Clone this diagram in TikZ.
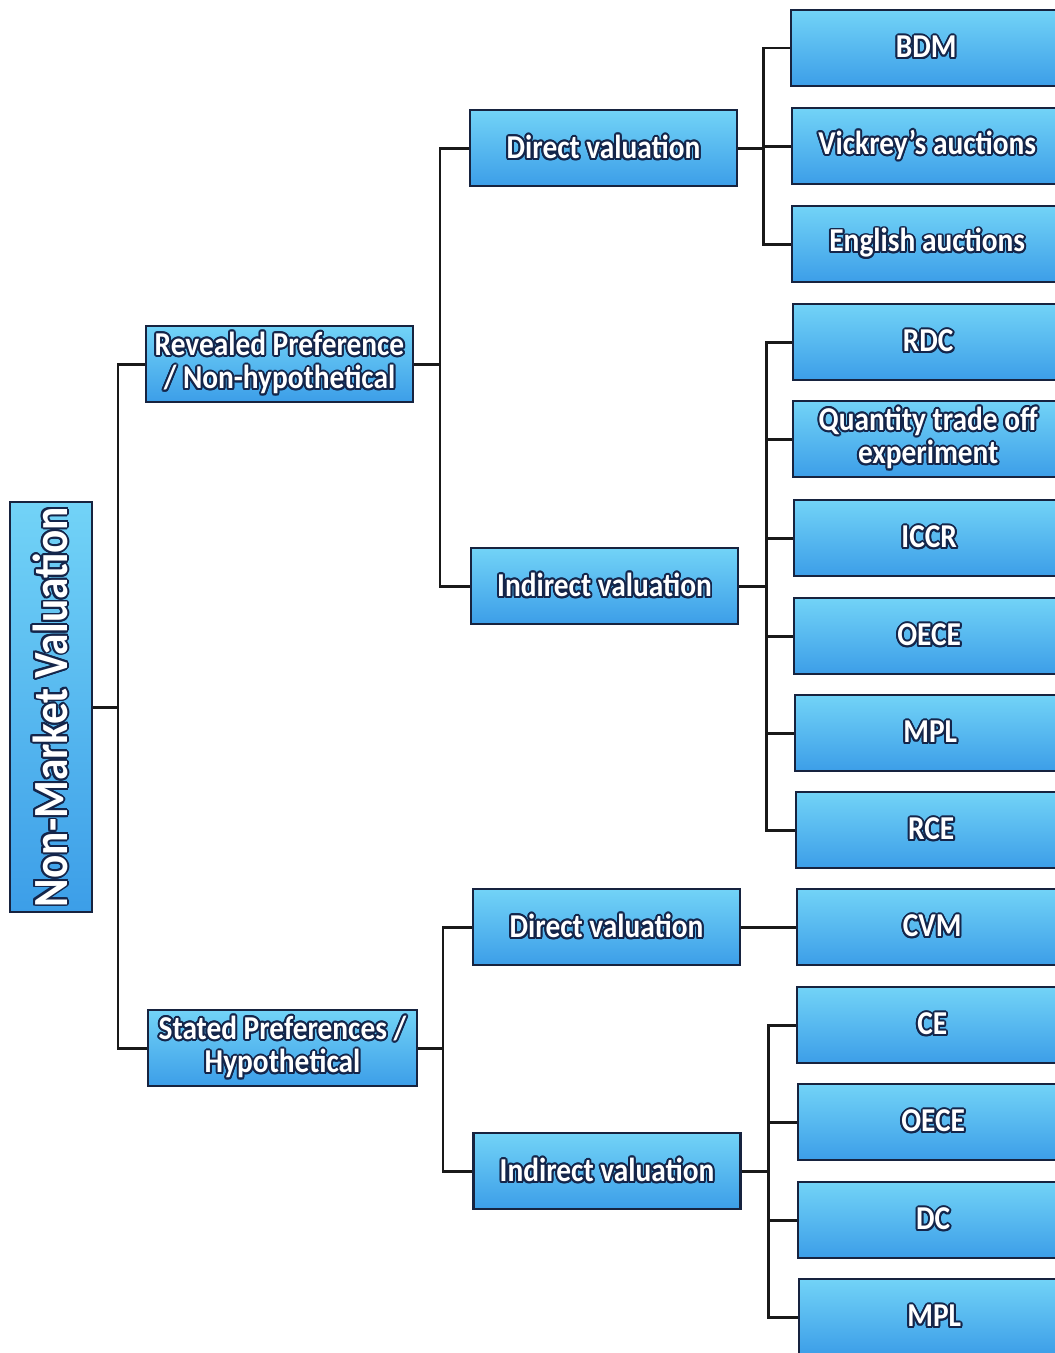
\documentclass[tikz,border=0pt]{standalone}
\usepackage{fontspec}
\setmainfont[FakeStretch=0.88]{Carlito}
\usepackage[copies]{contour}
\contourlength{1.1pt}
\definecolor{edgecol}{HTML}{17233F}
\definecolor{boxtop}{HTML}{72D3F7}
\definecolor{boxbot}{HTML}{3C9EE8}
\definecolor{txtline}{HTML}{14254A}
\newcommand\lbl[1]{\contour{txtline}{#1}}
\tikzset{
  box/.style={draw=edgecol, line width=1.4pt, top color=boxtop, bottom color=boxbot,
    minimum width=5.34cm, minimum height=1.52cm, inner sep=0pt, text=white, align=center,
    font=\bfseries\fontsize{19}{19}\selectfont},
  leaf/.style={box, minimum width=5.4cm, anchor=west},
  rootbox/.style={box, minimum width=8.2cm, minimum height=1.64cm, rotate=90,
    font=\bfseries\fontsize{28}{28}\selectfont},
  link/.style={draw=black!90, line width=1.7pt},
}
\begin{document}
\begin{tikzpicture}[x=0.02cm,y=-0.02cm]
\useasboundingbox (0,0) rectangle (1055,1353);
\fill[white] (0,0) rectangle (1055,1353);
\clip (0,0) rectangle (1055,1353);

% nodes
\node[rootbox] (root) at (51,707) {\lbl{Non-Market Valuation}};
\node[box] (rev) at (279.5,364) {\lbl{Revealed Preference}\\\lbl{/ Non-hypothetical}};
\node[box, minimum width=5.38cm] (sta) at (282.5,1048) {\lbl{Stated Preferences /}\\\lbl{Hypothetical}};

\node[box] (d1) at (603.5,148) {\lbl{Direct valuation}};
\node[box] (i1) at (604.5,586) {\lbl{Indirect valuation}};
\node[box] (d2) at (606.5,927) {\lbl{Direct valuation}};
\node[box] (i2) at (607,1171) {\lbl{Indirect valuation}};

\node[leaf] (l1) at (790,48) {\lbl{BDM}};
\node[leaf] (l2) at (791,146) {\lbl{Vickrey's auctions}};
\node[leaf] (l3) at (791,244) {\lbl{English auctions}};
\node[leaf] (l4) at (792,342) {\lbl{RDC}};
\node[leaf] (l5) at (792,439) {\lbl{Quantity trade off}\\\lbl{experiment}};
\node[leaf] (l6) at (793,538) {\lbl{ICCR}};
\node[leaf] (l7) at (793,636) {\lbl{OECE}};
\node[leaf] (l8) at (794,733) {\lbl{MPL}};
\node[leaf] (l9) at (795,830) {\lbl{RCE}};
\node[leaf] (l10) at (796,927) {\lbl{CVM}};
\node[leaf] (l11) at (796,1025) {\lbl{CE}};
\node[leaf] (l12) at (797,1122) {\lbl{OECE}};
\node[leaf] (l13) at (797,1220) {\lbl{DC}};
\node[leaf] (l14) at (798,1317) {\lbl{MPL}};

% junctions
\coordinate (j0) at (118,707);
\coordinate (j1) at (440,364);
\coordinate (j2) at (443,1048);
\coordinate (j3) at (763,148);
\coordinate (j4) at (766,586);
\coordinate (j5) at (768,1171);

% connectors
\draw[link] (root.south) -- (j0);
\draw[link] (rev.west) -| (j0) |- (sta.west);

\draw[link] (rev.east) -- (j1);
\draw[link] (d1.west) -| (j1) |- (i1.west);

\draw[link] (sta.east) -- (j2);
\draw[link] (d2.west) -| (j2) |- (i2.west);

\draw[link] (d1.east) -- (j3);
\draw[link] (l1.west) -| (j3) |- (l3.west);
\draw[link] (j3 |- l2.west) -- (l2.west);

\draw[link] (i1.east) -- (j4);
\draw[link] (l4.west) -| (j4) |- (l9.west);
\foreach \n in {l5,l6,l7,l8} \draw[link] (j4 |- \n.west) -- (\n.west);

\draw[link] (d2.east) -- (l10.west);

\draw[link] (i2.east) -- (j5);
\draw[link] (l11.west) -| (j5) |- (l14.west);
\foreach \n in {l12,l13} \draw[link] (j5 |- \n.west) -- (\n.west);
\end{tikzpicture}
\end{document}
